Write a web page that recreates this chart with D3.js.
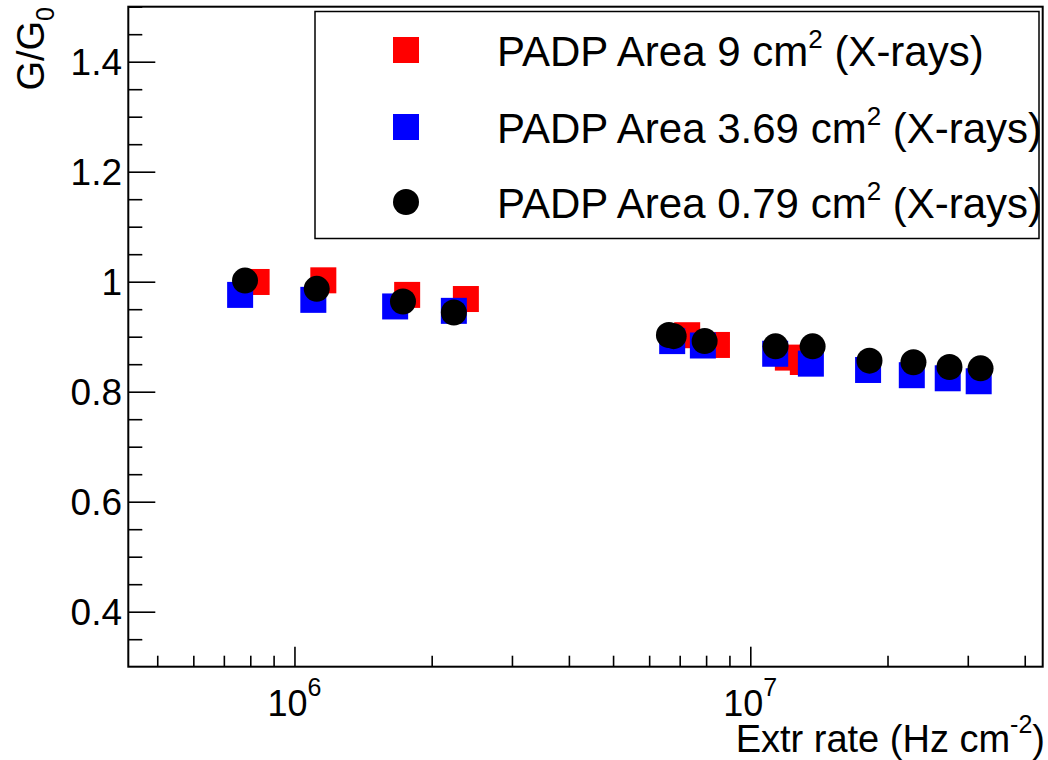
<!DOCTYPE html>
<html>
<head>
<meta charset="utf-8">
<script src="https://cdn.jsdelivr.net/npm/d3@7/dist/d3.min.js"></script>
<style>
  html, body { margin: 0; padding: 0; background: #fff; }
  svg { display: block; font-family: "Liberation Sans", Arial, Helvetica, sans-serif; }
</style>
</head>
<body>
<svg id="chart" width="1048" height="760"></svg>
<script>
// Gain ratio G/G0 versus extrapolated rate for three pad areas
const rate9 = [8.26e5, 1.157e6, 1.767e6, 2.377e6, 7.27e6, 8.45e6, 1.209e7, 1.304e7];
const gain9 = [0.9995, 1.0025, 0.976, 0.9685, 0.9027, 0.885, 0.862, 0.854];

const rate369 = [7.6e5, 1.10e6, 1.663e6, 2.237e6, 6.74e6, 7.87e6, 1.134e7, 1.358e7, 1.813e7, 2.261e7, 2.711e7, 3.17e7];
const gain369 = [0.976, 0.967, 0.955, 0.947, 0.892, 0.884, 0.869, 0.851, 0.8395, 0.830, 0.8244, 0.819];

const rate079 = [7.79e5, 1.119e6, 1.730e6, 2.237e6, 6.63e6, 6.79e6, 7.94e6, 1.136e7, 1.370e7, 1.826e7, 2.280e7, 2.735e7, 3.20e7];
const gain079 = [1.002, 0.987, 0.964, 0.944, 0.903, 0.901, 0.892, 0.8825, 0.8825, 0.8565, 0.8535, 0.845, 0.8425];

const seriesNames = ["PADP Area 9 cm", "PADP Area 3.69 cm", "PADP Area 0.79 cm"];
const seriesColors = ["#ff0000", "#0000ff", "#000000"];
const seriesShapes = ["square", "square", "circle"];

const xDomain = [4.32e5, 4.38e7];
const yDomain = [0.3, 1.5];
const xMajorTicks = [1e6, 1e7];
const xMajorExp = ["6", "7"];
const xMinorTicks = [5e5, 6e5, 7e5, 8e5, 9e5, 2e6, 3e6, 4e6, 5e6, 6e6, 7e6, 8e6, 9e6, 2e7, 3e7, 4e7];
const yMajorTicks = [0.4, 0.6, 0.8, 1.0, 1.2, 1.4];
const yMajorLabels = ["0.4", "0.6", "0.8", "1", "1.2", "1.4"];
const yMinorTicks = [0.35, 0.45, 0.5, 0.55, 0.65, 0.7, 0.75, 0.85, 0.9, 0.95, 1.05, 1.1, 1.15, 1.25, 1.3, 1.35, 1.45, 1.5];

const frame = { left: 128.3, right: 1042.7, top: 6.7, bottom: 666.7 };
const markerSide = 26;

const svg = d3.select("#chart");

const x = d3.scaleLog().domain(xDomain).range([frame.left, frame.right]);
const y = d3.scaleLinear().domain(yDomain).range([frame.bottom, frame.top]);

// Axis ticks point into the frame
const xMinorAxis = d3.axisBottom(x).tickValues(xMinorTicks).tickSizeInner(-11).tickSizeOuter(0).tickFormat("");
const xMajorAxis = d3.axisBottom(x).tickValues(xMajorTicks).tickSizeInner(-20).tickSizeOuter(0).tickFormat("");
const yMinorAxis = d3.axisLeft(y).tickValues(yMinorTicks).tickSizeInner(-14).tickSizeOuter(0).tickFormat("");
const yMajorAxis = d3.axisLeft(y).tickValues(yMajorTicks).tickSizeInner(-27).tickSizeOuter(0).tickFormat("");

function styleAxis(g) {
  g.selectAll(".domain").remove();
  g.selectAll(".tick line").attr("stroke", "#000").attr("stroke-width", 1.6);
}

svg.append("g").attr("transform", `translate(0,${frame.bottom})`).call(xMinorAxis).call(styleAxis);
svg.append("g").attr("transform", `translate(0,${frame.bottom})`).call(xMajorAxis).call(styleAxis);
svg.append("g").attr("transform", `translate(${frame.left},0)`).call(yMinorAxis).call(styleAxis);
svg.append("g").attr("transform", `translate(${frame.left},0)`).call(yMajorAxis).call(styleAxis);

// Frame
svg.append("rect")
  .attr("x", frame.left).attr("y", frame.top)
  .attr("width", frame.right - frame.left).attr("height", frame.bottom - frame.top)
  .attr("fill", "none").attr("stroke", "#000").attr("stroke-width", 2);

// Y tick labels
svg.append("g").selectAll("text")
  .data(yMajorTicks)
  .join("text")
  .attr("x", 122)
  .attr("y", d => y(d) + 13.5)
  .attr("text-anchor", "end")
  .attr("font-size", 37)
  .attr("fill", "#000")
  .text((d, i) => yMajorLabels[i]);

// X tick labels (powers of ten)
const xLab = svg.append("g").selectAll("text")
  .data(xMajorTicks)
  .join("text")
  .attr("x", d => x(d))
  .attr("y", 716)
  .attr("text-anchor", "middle")
  .attr("font-size", 36)
  .attr("fill", "#000");
xLab.append("tspan").text("10");
xLab.append("tspan").attr("font-size", 25).attr("dy", -20).text((d, i) => xMajorExp[i]);

// Axis titles
const xTitle = svg.append("text")
  .attr("x", 1045).attr("y", 752)
  .attr("text-anchor", "end")
  .attr("font-size", 38)
  .attr("fill", "#000");
xTitle.append("tspan").text("Extr rate (Hz cm");
xTitle.append("tspan").attr("font-size", 25).attr("dy", -19).text("-2");
xTitle.append("tspan").attr("dy", 19).text(")");

const yTitle = svg.append("text")
  .attr("transform", "translate(44,7) rotate(-90)")
  .attr("text-anchor", "end")
  .attr("font-size", 38)
  .attr("fill", "#000");
yTitle.append("tspan").text("G/G");
yTitle.append("tspan").attr("font-size", 25).attr("dy", 10).text("0");

// Markers
function drawMarker(sel, shape, color) {
  if (shape === "square") {
    sel.append("rect")
      .attr("x", -markerSide / 2).attr("y", -markerSide / 2)
      .attr("width", markerSide).attr("height", markerSide)
      .attr("fill", color);
  } else {
    sel.append("circle").attr("r", markerSide / 2).attr("fill", color);
  }
}

const allSeries = [
  { rate: rate9, gain: gain9 },
  { rate: rate369, gain: gain369 },
  { rate: rate079, gain: gain079 }
];

allSeries.forEach((s, k) => {
  const pts = s.rate.map((r, i) => ({ r, g: s.gain[i] }));
  svg.append("g").selectAll("g")
    .data(pts)
    .join("g")
    .attr("transform", d => `translate(${x(d.r)},${y(d.g)})`)
    .each(function () { drawMarker(d3.select(this), seriesShapes[k], seriesColors[k]); });
});

// Legend
const legend = svg.append("g");
legend.append("rect")
  .attr("x", 315).attr("y", 11.5)
  .attr("width", 724).attr("height", 227)
  .attr("fill", "#fff").attr("stroke", "#000").attr("stroke-width", 1.5);

const rowY = [50, 127, 202];
seriesNames.forEach((name, k) => {
  const m = legend.append("g").attr("transform", `translate(406,${rowY[k]})`);
  drawMarker(m, seriesShapes[k], seriesColors[k]);
  const t = legend.append("text")
    .attr("x", 497).attr("y", rowY[k] + 16)
    .attr("font-size", 42)
    .attr("fill", "#000");
  t.append("tspan").text(name);
  t.append("tspan").attr("font-size", 26).attr("dy", -18).text("2");
  t.append("tspan").attr("dy", 18).text(" (X-rays)");
});
</script>
</body>
</html>
